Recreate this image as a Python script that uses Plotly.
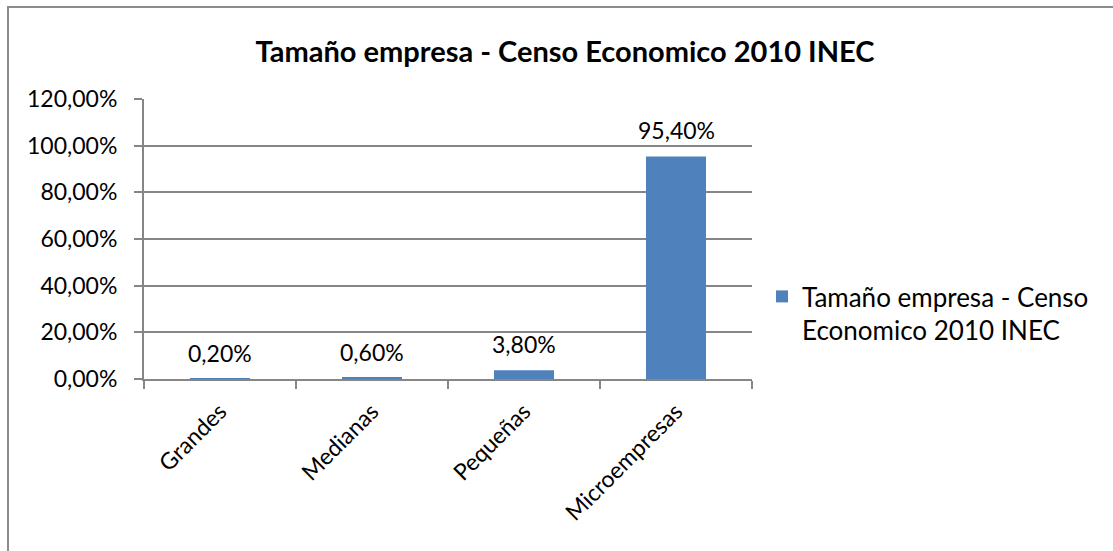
import plotly.graph_objects as go

categories = ["Grandes", "Medianas", "Pequeñas", "Microempresas"]
values = [0.002, 0.006, 0.038, 0.954]
series_name = "Tamaño empresa - Censo Economico 2010 INEC"
legend_label = "Tamaño empresa - Censo<br>Economico 2010 INEC"
title_text = "Tamaño empresa - Censo Economico 2010 INEC"
y_ticks = [0, 0.2, 0.4, 0.6, 0.8, 1.0, 1.2]

FONT = "Lato"
GRID = "#868686"
BAR = "#4F81BD"

W, H = 1113, 551
L, R, T, B = 144, 752, 99, 379
pw, ph = R - L, B - T


def px2x(px):
    return (px - L) / pw


def px2y(py):
    return (B - py) / ph


fig = go.Figure()
fig.add_trace(go.Bar(
    x=categories, y=values, name=legend_label,
    marker=dict(color=BAR, line=dict(width=0)),
    showlegend=True,
))

annotations = []
for c, v in zip(categories, values):
    annotations.append(dict(
        x=c, y=v, xref="x", yref="y", text=f"{v*100:.2f}%".replace(".", ","),
        showarrow=False, yshift=26, yanchor="middle",
        font=dict(family=FONT, size=23, color="#000000"),
    ))

fig.update_layout(
    width=W, height=H,
    margin=dict(l=L, r=W - R, t=T, b=H - B, pad=0),
    paper_bgcolor="white", plot_bgcolor="white",
    separators=",.",
    font=dict(family=FONT, size=23, color="#000000"),
    title=dict(text="<b>" + title_text + "</b>", x=565 / W, xanchor="center",
               y=1 - 52 / H, yanchor="middle",
               font=dict(family=FONT, size=29, color="#000000")),
    bargap=0.605,
    xaxis=dict(
        type="category", range=[-0.5, 3.5],
        showline=True, linecolor=GRID, linewidth=2,
        ticks="outside", ticklen=8, tickcolor=GRID, tickwidth=2,
        tickson="boundaries", tickangle=-45, ticklabelstandoff=8,
        showgrid=False, zeroline=False,
        tickfont=dict(family=FONT, size=23, color="#000000"),
    ),
    yaxis=dict(
        range=[0, 1.2], tickvals=y_ticks, tickformat=".2%",
        showline=True, linecolor=GRID, linewidth=2,
        ticks="outside", ticklen=8, tickcolor=GRID, tickwidth=2,
        showgrid=True, gridcolor=GRID, gridwidth=2,
        zeroline=False, ticklabelstandoff=12,
        tickfont=dict(family=FONT, size=23, color="#000000"),
    ),
    legend=dict(
        x=px2x(762), xanchor="left", y=px2y(273), yanchor="top",
        valign="top", bgcolor="rgba(0,0,0,0)",
        font=dict(family=FONT, size=26, color="#000000"),
        itemwidth=30,
    ),
    annotations=annotations,
    shapes=[dict(
        type="rect", xref="paper", yref="paper", layer="above",
        x0=px2x(8), x1=px2x(1140), y0=px2y(570), y1=px2y(7),
        line=dict(color="#8c8c8c", width=2), fillcolor="rgba(0,0,0,0)",
    )],
)

fig.write_html(
    "out.html",
    config={"displayModeBar": False},
    post_script="document.body.style.margin='0';document.body.style.overflow='hidden';",
)
